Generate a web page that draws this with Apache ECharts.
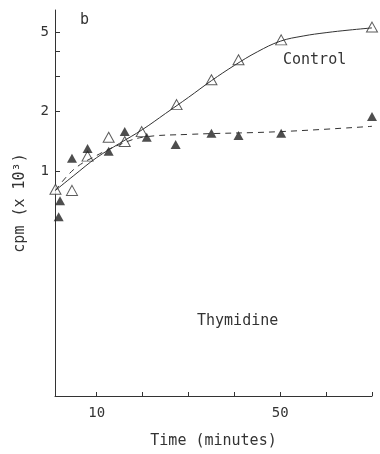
<!DOCTYPE html>
<html>
<head>
<meta charset="utf-8">
<script src="https://cdn.jsdelivr.net/npm/echarts@6/dist/echarts.min.js"></script>
<style>
  html, body { margin: 0; background: #fff; }
  #chart { width: 380px; height: 454px; }
</style>
</head>
<body>
<div id="chart"></div>
<script>
// measured points (time in minutes, cpm x 10^3)
const controlTime = [1, 4.6, 8, 12.6, 16.1, 19.8, 27.4, 35, 40.9, 50.2, 70];
const controlCpm = [0.81, 0.80, 1.19, 1.48, 1.41, 1.58, 2.16, 2.88, 3.63, 4.57, 5.3];
const thymTime = [1.7, 2, 4.6, 8, 12.6, 16.1, 20.9, 27.2, 35, 40.9, 50.2, 70];
const thymCpm = [0.59, 0.71, 1.16, 1.30, 1.26, 1.58, 1.48, 1.36, 1.55, 1.51, 1.55, 1.88];

// fitted curves as drawn
const controlFitTime = [1, 5, 10, 15, 20, 25, 30, 35, 40, 45, 50, 55, 60, 65, 70];
const controlFitCpm = [0.8, 0.95, 1.17, 1.38, 1.62, 1.95, 2.35, 2.85, 3.4, 3.98, 4.5, 4.78, 4.97, 5.12, 5.25];
const thymFitTime = [1, 5, 10, 15, 20, 30, 50, 70];
const thymFitCpm = [0.8, 1.02, 1.2, 1.36, 1.48, 1.53, 1.58, 1.68];

const xTicks = [10, 20, 30, 40, 50, 60, 70];
const xLabels = [10, 50];
const yTicks = [1, 2, 3, 4, 5];
const yLabels = [1, 2, 5];

const ink = '#333';
const font = 'DejaVu Sans Mono';

const zip = (xs, ys) => xs.map((x, i) => [x, ys[i]]);

const chart = echarts.init(document.getElementById('chart'), null, {renderer: 'canvas'});
chart.setOption({
  backgroundColor: '#fff',
  animation: false,
  grid: {left: 55, right: 8, top: 10, bottom: 56},
  xAxis: {
    type: 'value',
    min: 0.9,
    max: 70,
    name: 'Time (minutes)',
    nameLocation: 'middle',
    nameGap: 38,
    nameTextStyle: {fontFamily: font, fontSize: 15, color: ink},
    axisLine: {onZero: false, lineStyle: {color: ink, width: 1}},
    axisTick: {inside: true, length: 4, customValues: xTicks, lineStyle: {color: ink}},
    axisLabel: {customValues: xLabels, fontFamily: font, fontSize: 14, color: ink, margin: 10},
    splitLine: {show: false}
  },
  yAxis: {
    type: 'log',
    min: 0.074,
    max: 6.46,
    name: 'cpm (x 10³)',
    nameLocation: 'middle',
    nameRotate: 90,
    nameGap: 27,
    nameTextStyle: {fontFamily: font, fontSize: 15, color: ink},
    axisLine: {lineStyle: {color: ink, width: 1}},
    axisTick: {inside: true, length: 5, customValues: yTicks, lineStyle: {color: ink}},
    axisLabel: {customValues: yLabels, fontFamily: font, fontSize: 14, color: ink, margin: 6},
    splitLine: {show: false}
  },
  series: [
    {
      name: 'Control fit', type: 'line', smooth: 0.4, symbol: 'none',
      data: zip(controlFitTime, controlFitCpm),
      lineStyle: {color: ink, width: 1}
    },
    {
      name: 'Thymidine fit', type: 'line', smooth: 0.4, symbol: 'none',
      data: zip(thymFitTime, thymFitCpm),
      lineStyle: {color: ink, width: 1, type: [6, 5]}
    },
    {
      name: 'Control', type: 'scatter', symbol: 'triangle', symbolSize: [11, 10],
      data: zip(controlTime, controlCpm),
      itemStyle: {color: '#fff', borderColor: ink, borderWidth: 1}
    },
    {
      name: 'Thymidine', type: 'scatter', symbol: 'triangle', symbolSize: [10, 9],
      data: zip(thymTime, thymCpm),
      itemStyle: {color: '#222'}
    }
  ],
  graphic: [
    {type: 'text', left: 80, top: 13, style: {text: 'b', font: '15px ' + font, fill: ink}},
    {type: 'text', left: 283, top: 53, style: {text: 'Control', font: '15px ' + font, fill: ink}},
    {type: 'text', left: 197, top: 314, style: {text: 'Thymidine', font: '15px ' + font, fill: ink}}
  ]
});
</script>
</body>
</html>
